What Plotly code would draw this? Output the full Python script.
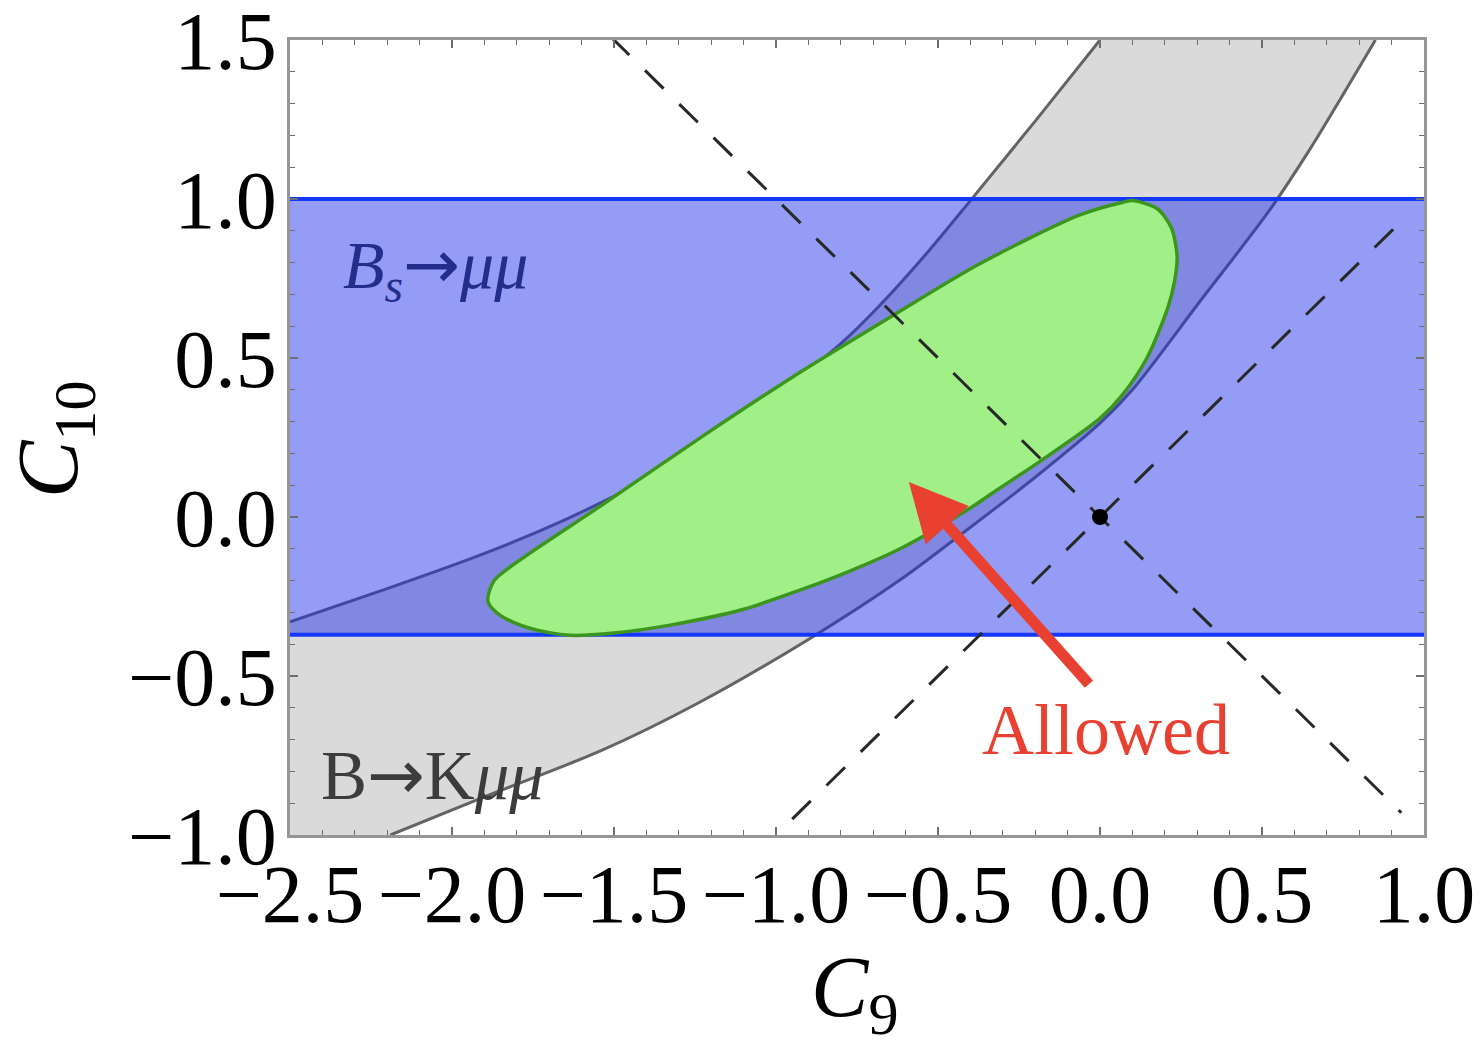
import plotly.graph_objects as go

# ---------------- data ----------------
# B -> K mu mu band: upper-left boundary curve
bk_upper_c9 = [-2.5, -2.2, -1.94, -1.72, -1.51, -1.25, -0.99, -0.80, -0.68, -0.53, -0.40, -0.20, 0.0]
bk_upper_c10 = [-0.33, -0.225, -0.13, -0.04, 0.06, 0.20, 0.39, 0.545, 0.665, 0.835, 0.995, 1.245, 1.50]
# B -> K mu mu band: lower-right boundary curve
bk_lower_c9 = [-2.19, -1.9, -1.54, -1.24, -0.9, -0.62, -0.41, -0.2, 0.0, 0.10, 0.31, 0.52, 0.65, 0.85]
bk_lower_c10 = [-1.0, -0.88, -0.735, -0.585, -0.385, -0.20, -0.04, 0.125, 0.295, 0.40, 0.68, 0.96, 1.16, 1.50]

# Bs -> mu mu band limits on C10
bs_c10_low = -0.37
bs_c10_high = 1.0

# allowed region (closed contour)
allowed_c9 = [-1.889, -1.85, -1.76, -1.636, -1.50, -1.327, -1.10, -0.926, -0.772, -0.617, -0.41,
              -0.318, -0.185, 0.0, 0.07, 0.145, 0.21, 0.23, 0.238, 0.22, 0.176, 0.10, 0.071,
              -0.062, -0.37, -0.648, -0.957, -1.225, -1.534, -1.79, -1.87, -1.889]
allowed_c10 = [-0.265, -0.31, -0.35, -0.372, -0.365, -0.34, -0.29, -0.23, -0.17, -0.10, 0.022,
               0.085, 0.175, 0.31, 0.385, 0.50, 0.66, 0.74, 0.82, 0.91, 0.97, 0.995, 0.99,
               0.95, 0.797, 0.628, 0.435, 0.255, 0.04, -0.135, -0.20, -0.265]

# dashed reference lines through the SM point
diag_c9 = [-0.95, 0.93]
anti_c9 = [-1.51, 0.93]

# Standard Model point
sm_c9 = [0.0]
sm_c10 = [0.0]

# axes
x_range = [-2.5, 1.0]
y_range = [-1.0, 1.5]
x_ticks = [-2.5, -2.0, -1.5, -1.0, -0.5, 0.0, 0.5, 1.0]
x_ticktext = ["\u22122.5", "\u22122.0", "\u22121.5", "\u22121.0", "\u22120.5", "0.0", "0.5", "1.0"]
y_ticks = [-1.0, -0.5, 0.0, 0.5, 1.0, 1.5]
y_ticktext = ["\u22121.0", "\u22120.5", "0.0", "0.5", "1.0", "1.5"]

# arrow (tail -> head)
arrow_tail = (-0.03, -0.53)
arrow_head = (-0.59, 0.11)

SERIF = "Liberation Serif, Times New Roman, serif"
ARROW = '<span style="font-family:DejaVu Sans">\u2192</span>'

fig = go.Figure()

# gray B->K mu mu band (fill)
gray_x = bk_upper_c9 + bk_lower_c9[::-1] + [x_range[0], bk_upper_c9[0]]
gray_y = bk_upper_c10 + bk_lower_c10[::-1] + [y_range[0], bk_upper_c10[0]]
fig.add_trace(go.Scatter(x=gray_x, y=gray_y, mode="lines", fill="toself",
                         fillcolor="rgb(218,218,218)", line=dict(width=0),
                         hoverinfo="skip", showlegend=False))
for cx, cy in [(bk_upper_c9, bk_upper_c10), (bk_lower_c9, bk_lower_c10)]:
    fig.add_trace(go.Scatter(x=cx, y=cy, mode="lines",
                             line=dict(color="rgb(100,100,100)", width=3, shape="spline", smoothing=0.8),
                             hoverinfo="skip", showlegend=False))

# blue Bs -> mu mu band (semi-transparent over gray)
bx = [x_range[0], x_range[1], x_range[1], x_range[0], x_range[0]]
by = [bs_c10_low, bs_c10_low, bs_c10_high, bs_c10_high, bs_c10_low]
fig.add_trace(go.Scatter(x=bx, y=by, mode="lines", fill="toself",
                         fillcolor="rgba(22,40,233,0.46)", line=dict(width=0),
                         hoverinfo="skip", showlegend=False))
for yy in [bs_c10_low, bs_c10_high]:
    fig.add_trace(go.Scatter(x=x_range, y=[yy, yy], mode="lines",
                             line=dict(color="rgb(20,55,255)", width=4),
                             hoverinfo="skip", showlegend=False))

# allowed region
fig.add_trace(go.Scatter(x=allowed_c9, y=allowed_c10, mode="lines", fill="toself",
                         fillcolor="rgb(160,240,135)",
                         line=dict(color="rgb(60,150,30)", width=3.5, shape="spline", smoothing=0.8),
                         hoverinfo="skip", showlegend=False))

# dashed lines C10 = C9 and C10 = -C9
fig.add_trace(go.Scatter(x=diag_c9, y=[v for v in diag_c9], mode="lines",
                         line=dict(color="rgb(40,40,40)", width=3, dash="26px,22px"),
                         hoverinfo="skip", showlegend=False))
fig.add_trace(go.Scatter(x=anti_c9, y=[-v for v in anti_c9], mode="lines",
                         line=dict(color="rgb(40,40,40)", width=3, dash="26px,22px"),
                         hoverinfo="skip", showlegend=False))

# SM point
fig.add_trace(go.Scatter(x=sm_c9, y=sm_c10, mode="markers",
                         marker=dict(color="black", size=16),
                         hoverinfo="skip", showlegend=False))

# annotations
fig.add_annotation(x=arrow_head[0], y=arrow_head[1], ax=arrow_tail[0], ay=arrow_tail[1],
                   xref="x", yref="y", axref="x", ayref="y", text="", showarrow=True,
                   arrowhead=2, arrowsize=1.05, arrowwidth=11, arrowcolor="rgb(232,65,50)")
fig.add_annotation(x=0.02, y=-0.67, xref="x", yref="y", text="Allowed", showarrow=False,
                   font=dict(family=SERIF, size=72, color="rgb(232,65,50)"))
fig.add_annotation(x=-2.06, y=-0.81, xref="x", yref="y", text="B" + ARROW + "K<i>\u03bc\u03bc</i>",
                   showarrow=False, font=dict(family=SERIF, size=69, color="rgb(60,60,60)"))
fig.add_annotation(x=-2.05, y=0.78, xref="x", yref="y",
                   text="<i>B<sub>s</sub></i>" + ARROW + "<i>\u03bc\u03bc</i>",
                   showarrow=False, font=dict(family=SERIF, size=68, color="rgb(35,45,140)"))
# axis titles
fig.add_annotation(x=0.498, y=-0.128, xref="paper", yref="paper", yanchor="top",
                   text="<i>C</i><sub>9</sub>", showarrow=False,
                   font=dict(family=SERIF, size=86, color="black"))
fig.add_annotation(x=-0.2575, y=0.498, xref="paper", yref="paper", textangle=-90,
                   text="<i>C</i><sub>10</sub>", showarrow=False,
                   font=dict(family=SERIF, size=86, color="black"))

axis_common = dict(showgrid=False, zeroline=False, showline=True, linecolor="rgb(150,150,150)",
                   linewidth=2.5, mirror="allticks", ticks="inside", ticklen=8, tickwidth=1.5,
                   tickcolor="rgb(110,110,110)",
                   minor=dict(ticks="inside", dtick=0.1, ticklen=5, tickwidth=1.2, tickcolor="rgb(110,110,110)"),
                   tickfont=dict(family=SERIF, size=82, color="black"),
                   ticklabeloverflow="allow")

fig.update_xaxes(range=x_range, tickvals=x_ticks, ticktext=x_ticktext, ticklabelstandoff=-14, **axis_common)
fig.update_yaxes(range=y_range, tickvals=y_ticks, ticktext=y_ticktext, ticklabelstandoff=-6, **axis_common)

# page body has an 8px default margin: compensate so the plot area lands at the reference pixels
fig.update_layout(width=1465, height=1028, margin=dict(l=282, r=49, t=32, b=201, autoexpand=False),
                  plot_bgcolor="white", paper_bgcolor="white", showlegend=False)

fig.write_html("out.html")
